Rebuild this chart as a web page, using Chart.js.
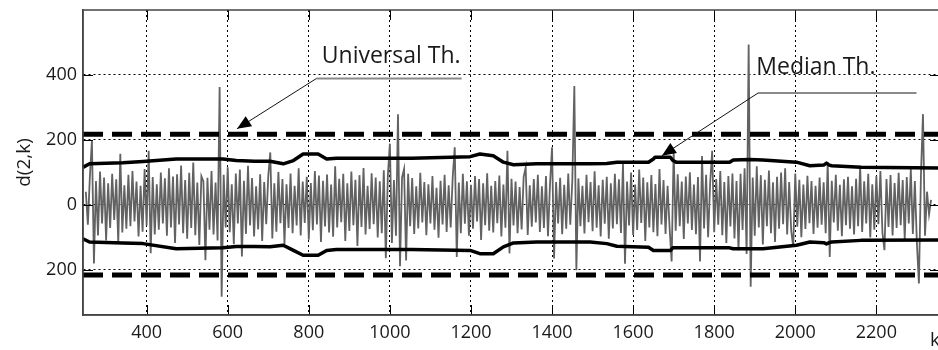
<!DOCTYPE html>
<html>
<head>
<meta charset="utf-8">
<script src="https://cdn.jsdelivr.net/npm/chart.js@4.4.0/dist/chart.umd.min.js"></script>
<style>
  html, body { margin: 0; padding: 0; background: #fff; overflow: hidden; }
  #wrap { width: 938px; height: 350px; overflow: hidden; }
</style>
</head>
<body>
<div id="wrap"><canvas id="c" width="946" height="350"></canvas></div>
<script>
// axis ticks
const xTicks = [400, 600, 800, 1000, 1200, 1400, 1600, 1800, 2000, 2200];
const yTicks = [-200, 0, 200, 400];

const sigStart = 250;
const sigStep = 5;
const sigVals = [
  40, -62, 88, 197, -181, 73, -95, 102, -58, 84, -110, 66, -72, 95, -47, 78, -118, 157, -86, 60,
  -74, 92, -66, 104, -52, 71, -98, 58, -83, 110, -64, 166, -150, 85, -92, 63, -77, 99, -58, 81,
  -96, 112, -70, 87, -118, 94, -61, 121, -88, 76, -105, 98, -72, 130, -94, 68, -124, 88, 72, -171,
  83, -77, 104, -92, 68, -110, 363, -284, 92, -70, 115, -85, 63, -122, 96, -58, 108, -160, 74, -90,
  120, -64, 82, -98, 57, -76, 94, -112, 70, -60, 88, 161, -104, 66, -83, 101, -57, 79, -121, 63,
  -72, 96, -88, 58, -64, 112, -95, 71, -56, 86, -108, 67, -79, 104, -61, 90, -115, 74, -67, 93,
  -86, 62, -99, 118, -70, 80, -54, 95, -112, 66, -81, 102, -63, 77, -127, 91, -69, 113, -92, 58,
  -75, 97, -60, 84, -101, 72, -88, 106, -165, 90, 188, -118, 76, -96, 279, -190, 84, 110, -172, 95,
  -66, 82, -90, 57, -73, 98, -55, 70, -94, 63, -58, 88, -77, 52, -102, 74, -61, 92, -84, 60,
  -70, 85, 177, -161, 68, -88, 95, -59, 72, -96, 61, -74, 88, -52, 79, -109, 66, -63, 97, -80,
  58, -86, 73, -57, 90, -98, 62, -71, 166, -150, 80, -64, 71, -88, 54, -76, 86, 115, -93, 60,
  -68, 79, -55, 92, -84, 57, -72, 88, -97, 64, 177, -166, 70, -58, 83, -91, 61, -74, 96, -62,
  74, 366, -202, 81, -66, 58, -89, 92, -54, 70, -82, 103, -71, 60, -98, 77, -59, 86, -105, 66,
  -73, 95, -60, 78, -87, 126, -182, 71, -64, 99, -93, 62, -78, 108, -56, 84, -112, 69, -70, 91,
  -85, 64, -97, 110, -61, 76, -90, 58, -72, -175, 166, -80, 94, -66, 71, -106, 87, -58, 100, -78,
  62, -91, 85, -175, 150, -73, 92, -100, 66, 166, -85, 79, -62, 104, -94, 70, -118, 88, -67, 96,
  -104, 73, -140, 95, -78, 112, -152, 494, -253, 84, -96, 118, -70, 91, -123, 77, -66, 105, -88, 69,
  -115, 86, -74, 99, -60, 112, -92, 70, -81, -130, 96, -68, 77, -100, 62, -75, 89, -57, 73, -90,
  58, -71, 84, -62, 69, -88, 130, -161, 74, -55, 92, -80, 61, -97, 78, -63, 86, -74, 57, -92,
  80, -66, 120, -84, 72, -58, 95, -101, 63, -77, 88, -60, 104, -86, -140, 79, -69, 91, -95, 67,
  -72, 98, -63, 76, -107, 85, -58, 110, -90, 73, -118, -243, 92, 279, -96, 40, -30, 15
];

// median threshold (upper / lower envelope)
const medK  = [243, 259, 341, 391, 473, 588, 621, 666, 704, 737, 762, 786, 823, 844, 868, 1054, 1198, 1222, 1255, 1280,
               1305, 1362, 1494, 1535, 1560, 1638, 1650, 1654, 1692, 1698, 1706, 1838, 1847, 1888, 1920, 2003, 2036, 2070, 2077, 2084,
               2090, 2162, 2357];
const medUp = [115, 126, 129, 133, 141, 141, 136, 134, 134, 126, 136, 156, 156, 141, 143, 143, 148, 156, 151, 131,
               123, 126, 126, 127, 131, 131, 141, 146, 146, 136, 131, 131, 138, 139, 138, 131, 120, 122, 128, 122,
               120, 115, 113];
const medLo = [-105, -115, -118, -120, -136, -133, -129, -129, -130, -125, -141, -156, -156, -141, -138, -138, -141, -151, -151, -130,
               -118, -115, -115, -120, -128, -131, -141, -141, -141, -133, -133, -133, -136, -136, -136, -125, -115, -117, -121, -117,
               -115, -110, -109];

// universal threshold
const uniK  = [243, 2357];
const uniUp = [217, 217];
const uniLo = [-217, -217];

// callouts, in data units
const notes = [
  { text: 'Universal Th.', at: [832, 437], elbow: [819, 389], shelfEnd: 1177, tip: [623, 234] },
  { text: 'Median Th.',    at: [1904, 403], elbow: [1908, 344], shelfEnd: 2299, tip: [1671, 151] }
];

const FONT = '"Open Sans", "Noto Sans", sans-serif';
const TXT = '#1a1a1a';

const sigData = sigVals.map((v, i) => ({ x: sigStart + i * sigStep, y: v }));
const pts = (ks, vs) => ks.map((k, i) => ({ x: k, y: vs[i] }));

const frame = {
  id: 'frame',
  afterDatasetsDraw(chart) {
    const { ctx, scales: { x, y } } = chart;
    ctx.save();
    notes.forEach(n => {
      const ex = x.getPixelForValue(n.elbow[0]), ey = y.getPixelForValue(n.elbow[1]);
      const sx = x.getPixelForValue(n.shelfEnd);
      const tx = x.getPixelForValue(n.tip[0]), ty = y.getPixelForValue(n.tip[1]);
      ctx.strokeStyle = '#8a8a8a';
      ctx.lineWidth = 2;
      ctx.beginPath(); ctx.moveTo(ex, ey); ctx.lineTo(sx, ey); ctx.stroke();
      ctx.strokeStyle = '#111';
      ctx.lineWidth = 1;
      ctx.beginPath(); ctx.moveTo(ex, ey); ctx.lineTo(tx, ty); ctx.stroke();
      const a = Math.atan2(ty - ey, tx - ex), L = 14, W = 6;
      ctx.fillStyle = '#000';
      ctx.beginPath();
      ctx.moveTo(tx, ty);
      ctx.lineTo(tx - L * Math.cos(a) + W * Math.sin(a), ty - L * Math.sin(a) - W * Math.cos(a));
      ctx.lineTo(tx - L * Math.cos(a) - W * Math.sin(a), ty - L * Math.sin(a) + W * Math.cos(a));
      ctx.closePath(); ctx.fill();
      ctx.font = '23px ' + FONT;
      ctx.fillStyle = TXT;
      ctx.textBaseline = 'alphabetic';
      ctx.textAlign = 'left';
      ctx.fillText(n.text, x.getPixelForValue(n.at[0]), y.getPixelForValue(n.at[1]));
    });
    ctx.restore();
  },
  afterDraw(chart) {
    const { ctx, chartArea: c, scales: { x, y } } = chart;
    ctx.save();
    ctx.strokeStyle = '#000';
    ctx.lineWidth = 1;
    ctx.beginPath();
    xTicks.forEach(v => {
      const px = Math.round(x.getPixelForValue(v)) + 0.5;
      ctx.moveTo(px, c.bottom); ctx.lineTo(px, c.bottom - 10);
      ctx.moveTo(px, c.top); ctx.lineTo(px, c.top + 10);
    });
    yTicks.forEach(v => {
      const py = Math.round(y.getPixelForValue(v)) + 0.5;
      ctx.moveTo(c.left, py); ctx.lineTo(c.left + 10, py);
      ctx.moveTo(c.right, py); ctx.lineTo(c.right - 10, py);
    });
    ctx.stroke();
    ctx.strokeStyle = '#444';
    ctx.lineWidth = 1.5;
    ctx.strokeRect(c.left, c.top, c.right - c.left, c.bottom - c.top);
    ctx.restore();
  }
};

new Chart(document.getElementById('c'), {
  type: 'line',
  data: {
    datasets: [
      { data: pts(uniK, uniUp), borderColor: '#000', borderWidth: 5, borderDash: [20, 9], order: 1 },
      { data: pts(uniK, uniLo), borderColor: '#000', borderWidth: 5, borderDash: [20, 9], order: 1 },
      { data: pts(medK, medUp), borderColor: '#000', borderWidth: 3.5, order: 2 },
      { data: pts(medK, medLo), borderColor: '#000', borderWidth: 3.5, order: 2 },
      { data: sigData, borderColor: '#626262', borderWidth: 1.8, borderJoinStyle: 'miter', order: 3 }
    ]
  },
  options: {
    responsive: false,
    animation: false,
    layout: { padding: { top: 10, right: 6, left: 0, bottom: 0 } },
    elements: { point: { radius: 0 }, line: { tension: 0, borderJoinStyle: 'round' } },
    plugins: { legend: { display: false }, tooltip: { enabled: false } },
    scales: {
      x: {
        type: 'linear', min: 243, max: 2357,
        afterBuildTicks: s => { s.ticks = xTicks.map(v => ({ value: v })); },
        afterFit: s => { s.height = 35; s.paddingLeft = 0; s.paddingRight = 0; },
        ticks: { font: { family: FONT, size: 18 }, color: TXT, padding: 7, maxRotation: 0,
                 callback: v => String(v) },
        grid: { color: '#000', lineWidth: 1, drawTicks: false },
        border: { display: true, color: '#444', width: 1.5, dash: [2, 3] },
        title: { display: true, text: 'k', align: 'end', color: TXT,
                 font: { family: FONT, size: 19, lineHeight: 1 }, padding: 0 }
      },
      y: {
        min: -340, max: 600,
        afterBuildTicks: s => { s.ticks = yTicks.map(v => ({ value: v })); },
        afterFit: s => { s.width = 83; s.paddingTop = 0; s.paddingBottom = 0; },
        ticks: { font: { family: FONT, size: 18 }, color: TXT, padding: 6,
                 callback: v => String(Math.abs(v)) },
        grid: { color: '#000', lineWidth: 1, drawTicks: false },
        border: { display: true, color: '#444', width: 1.5, dash: [2, 3] },
        title: { display: true, text: 'd(2,k)', color: TXT,
                 font: { family: FONT, size: 19, lineHeight: 1 }, padding: { top: 15, bottom: 0 } }
      }
    }
  },
  plugins: [frame]
});
</script>
</body>
</html>
